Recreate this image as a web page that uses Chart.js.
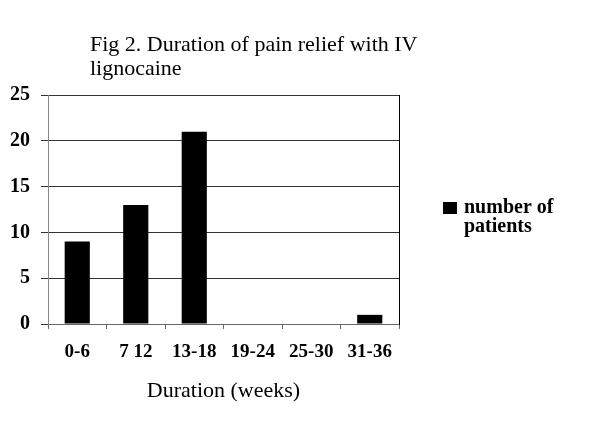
<!DOCTYPE html>
<html>
<head>
<meta charset="utf-8">
<script src="https://cdn.jsdelivr.net/npm/chart.js@4"></script>
<style>
  html, body { margin: 0; padding: 0; background: #fff; }
  #wrap { width: 600px; height: 428px; }
</style>
</head>
<body>
<div id="wrap"><canvas id="painChart" width="600" height="428"></canvas></div>
<script>
// 기간 구간 (x축)
const durations = ['0-6', '7 12', '13-18', '19-24', '25-30', '31-36'];
// 환자 수
const patients = [9, 13, 21, 0, 0, 1];
const titleLines = ['Fig 2. Duration of pain relief with IV', 'lignocaine'];
const legendLines = ['number of', 'patients'];

const serif = '"Liberation Serif", "Times New Roman", "DejaVu Serif", serif';

// 제목과 범례는 직접 그림
const extraText = {
    id: 'extraText',
    afterDraw(chart) {
        const ctx = chart.ctx;
        ctx.save();
        ctx.fillStyle = '#000';
        ctx.textBaseline = 'middle';
        ctx.textAlign = 'left';
        ctx.font = '22px ' + serif;
        titleLines.forEach((t, i) => ctx.fillText(t, 90, 45 + i * 24));

        const ds = chart.data.datasets[0];
        ctx.fillStyle = ds.backgroundColor;
        ctx.fillRect(443, 202, 14, 12);
        ctx.fillStyle = '#000';
        ctx.font = 'bold 20px ' + serif;
        legendLines.forEach((t, i) => ctx.fillText(t, 464, 208 + i * 19));
        ctx.restore();
    }
};

const ctx = document.getElementById('painChart').getContext('2d');
new Chart(ctx, {
    type: 'bar',
    data: {
        labels: durations,
        datasets: [{
            label: 'number of patients',
            data: patients,
            backgroundColor: '#000',
            barPercentage: 0.43,
            categoryPercentage: 1.0
        }]
    },
    options: {
        responsive: false,
        animation: false,
        layout: { padding: { top: 95, right: 201, bottom: 0, left: 0 } },
        plugins: {
            legend: { display: false },
            title: { display: false },
            tooltip: { enabled: false }
        },
        scales: {
            x: {
                afterFit: s => { s.height = 104; },
                border: { color: '#666', width: 1 },
                grid: { offset: true, drawOnChartArea: false, tickLength: 5, color: '#666' },
                ticks: { color: '#000', padding: 12, font: { family: serif, size: 19, weight: 'bold' } },
                title: {
                    display: true,
                    text: 'Duration (weeks)',
                    color: '#000',
                    font: { family: serif, size: 22 },
                    padding: { top: 0, bottom: 24 }
                }
            },
            y: {
                min: 0,
                max: 25,
                afterFit: s => { s.width = 48; },
                border: { color: '#888', width: 1 },
                grid: { color: '#333', tickLength: 7 },
                ticks: { stepSize: 5, color: '#000', padding: 11, font: { family: serif, size: 20, weight: 'bold' } }
            },
            y2: {
                position: 'right',
                min: 0,
                max: 25,
                afterFit: s => { s.width = 0; },
                border: { color: '#000', width: 1 },
                grid: { drawOnChartArea: false, drawTicks: false },
                ticks: { display: false }
            }
        }
    },
    plugins: [extraText]
});
</script>
</body>
</html>
